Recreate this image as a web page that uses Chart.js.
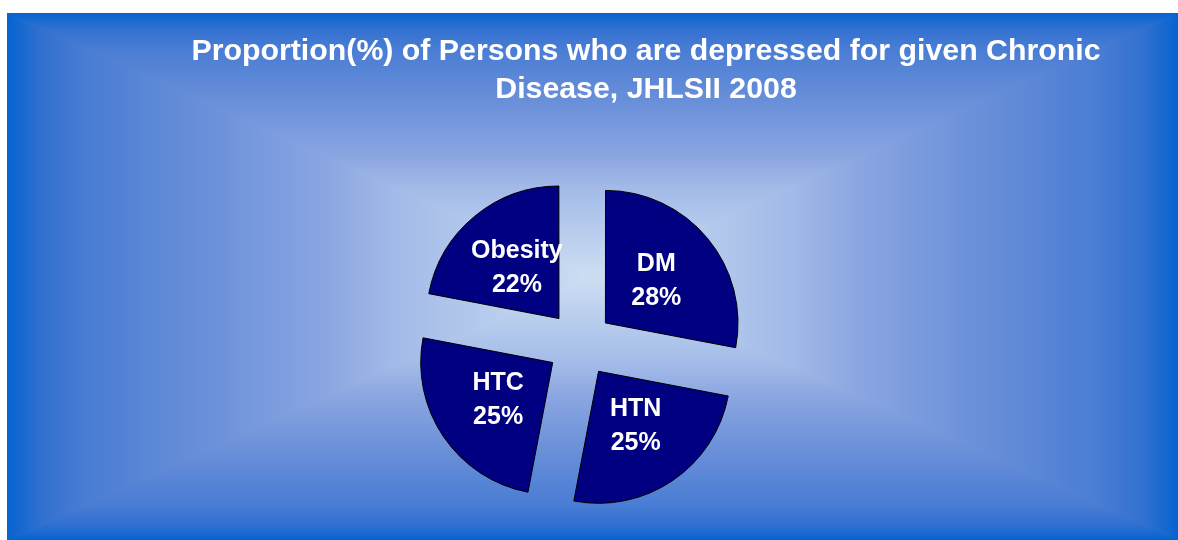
<!DOCTYPE html>
<html>
<head>
<meta charset="utf-8">
<script src="https://cdn.jsdelivr.net/npm/chart.js@4.4.0/dist/chart.umd.min.js"></script>
<style>
  html, body { margin: 0; padding: 0; background: #fff; }
  body { width: 1178px; height: 540px; position: relative; overflow: hidden; }
  #wrap { position: absolute; left: 7px; top: 13px; width: 1171px; height: 527px; }
  #title {
    position: absolute; left: 146px; width: 1000px; top: 31px;
    text-align: center; color: #fff;
    font-family: "Liberation Sans", Arial, sans-serif; font-weight: bold;
    font-size: 30.3px; line-height: 38px;
  }
</style>
</head>
<body>
<div id="wrap"><canvas id="pieChart" width="1171" height="527"></canvas></div>
<div id="title">Proportion(%) of Persons who are depressed for given Chronic<br>Disease, JHLSII 2008</div>
<script>
// Data
const diseases = ['DM', 'HTN', 'HTC', 'Obesity'];
const depressedPct = [28, 25, 25, 22];

// rectangular "path" gradient like the old office chart background
const bgPlugin = {
  id: 'rectGradient',
  beforeDraw(chart) {
    const ctx = chart.ctx;
    const w = chart.width, h = chart.height;
    const cx = w / 2, cy = h / 2;
    const stops = [
      [0, 'rgb(205,222,242)'],
      [0.34, 'rgb(162,186,232)'],
      [0.45, 'rgb(140,166,225)'],
      [0.6, 'rgb(115,150,220)'],
      [0.7, 'rgb(100,140,215)'],
      [0.87, 'rgb(72,124,212)'],
      [0.94, 'rgb(50,112,208)'],
      [1, 'rgb(5,100,208)']
    ];
    const tris = [
      [[0, 0], [w, 0], [cx, 0]],
      [[w, 0], [w, h], [w, cy]],
      [[w, h], [0, h], [cx, h]],
      [[0, h], [0, 0], [0, cy]]
    ];
    ctx.save();
    tris.forEach(t => {
      const g = ctx.createLinearGradient(cx, cy, t[2][0], t[2][1]);
      stops.forEach(s => g.addColorStop(s[0], s[1]));
      ctx.beginPath();
      ctx.moveTo(cx, cy);
      ctx.lineTo(t[0][0], t[0][1]);
      ctx.lineTo(t[1][0], t[1][1]);
      ctx.closePath();
      ctx.fillStyle = g;
      ctx.fill();
      ctx.strokeStyle = g;
      ctx.lineWidth = 1;
      ctx.stroke();
    });
    ctx.restore();
  }
};

// labels inside each slice
const sliceLabels = {
  id: 'sliceLabels',
  afterDatasetsDraw(chart) {
    const ctx = chart.ctx;
    const meta = chart.getDatasetMeta(0);
    ctx.save();
    ctx.fillStyle = '#fff';
    ctx.font = 'bold 25px "Liberation Sans", Arial, sans-serif';
    ctx.textAlign = 'center';
    ctx.textBaseline = 'middle';
    meta.data.forEach((arc, i) => {
      const p = arc.getProps(['x', 'y', 'startAngle', 'endAngle', 'outerRadius'], true);
      const mid = (p.startAngle + p.endAngle) / 2;
      // chart.js v4 draws the arc shifted by offset / 4
      const d = arc.options.offset / 4 + p.outerRadius * 0.5;
      const x = p.x + Math.cos(mid) * d;
      const y = p.y + Math.sin(mid) * d;
      ctx.fillText(diseases[i], x, y - 17);
      ctx.fillText(depressedPct[i] + '%', x, y + 17);
    });
    ctx.restore();
  }
};

const pieConfig = {
  type: 'pie',
  data: {
    labels: diseases,
    datasets: [{
      data: depressedPct,
      backgroundColor: '#000080',
      borderColor: '#000000',
      borderWidth: 1,
      offset: 132
    }]
  },
  options: {
    responsive: false,
    animation: false,
    devicePixelRatio: 1,
    radius: 132,
    layout: { padding: { left: 0, right: 25, top: 135, bottom: 0 } },
    plugins: {
      legend: { display: false },
      tooltip: { enabled: false },
      title: { display: false }
    }
  },
  plugins: [bgPlugin, sliceLabels]
};

new Chart(document.getElementById('pieChart').getContext('2d'), pieConfig);
</script>
</body>
</html>
